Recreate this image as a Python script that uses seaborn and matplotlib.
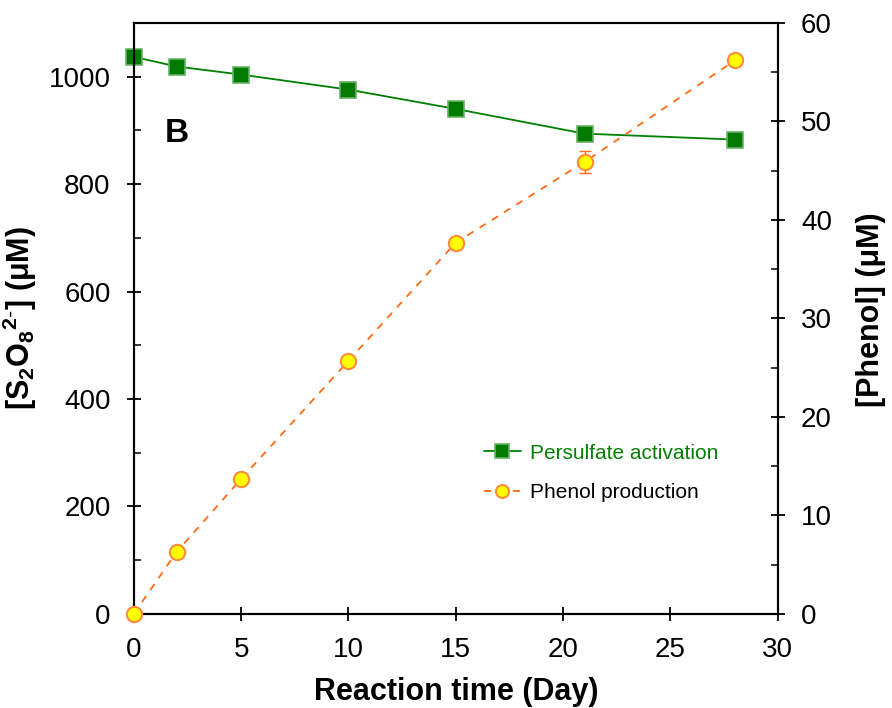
import matplotlib
matplotlib.use("Agg")
import matplotlib.pyplot as plt
from matplotlib.ticker import MultipleLocator
import seaborn as sns
import pandas as pd

# Persulfate concentration over time (left axis)
ps_days = [0, 2, 5, 10, 15, 21, 28]
ps_conc = [1037, 1019, 1004, 976, 940, 894, 883]

# Phenol production over time (right axis)
ph_days = [0, 2, 5, 10, 15, 21, 28]
ph_conc = [0.0, 6.3, 13.7, 25.7, 37.7, 45.9, 56.2]
ph_err = [0.0, 0.2, 0.3, 0.3, 0.4, 1.1, 0.4]

ps_label = "Persulfate activation"
ph_label = "Phenol production"

sns.set_style("ticks")
plt.rcParams["font.family"] = ["Liberation Sans", "DejaVu Sans"]
plt.rcParams["mathtext.fontset"] = "custom"
plt.rcParams["mathtext.rm"] = "Liberation Sans"
plt.rcParams["mathtext.bf"] = "Liberation Sans:bold"
plt.rcParams["text.color"] = "black"
plt.rcParams["axes.labelcolor"] = "black"

fig = plt.figure(figsize=(8.92, 7.08), dpi=100)
ax = fig.add_axes([0.150, 0.133, 0.722, 0.8345])
ax2 = ax.twinx()

ps_df = pd.DataFrame({"day": ps_days, "conc": ps_conc})
ph_df = pd.DataFrame({"day": ph_days, "conc": ph_conc, "err": ph_err})

sns.lineplot(data=ps_df, x="day", y="conc", ax=ax, color="#008000", lw=1.3,
             marker="s", markersize=11.5, markerfacecolor="#007a00",
             markeredgecolor="#66b266", markeredgewidth=1.2, label=ps_label,
             legend=False, zorder=3, clip_on=False)

ax2.errorbar(ph_df["day"], ph_df["conc"], yerr=ph_df["err"], fmt="none",
             ecolor="#ff6a13", elinewidth=1.0, capsize=4, zorder=2)
sns.lineplot(data=ph_df, x="day", y="conc", ax=ax2, color="#ff6a13", lw=1.3,
             linestyle=(0, (4, 4)), marker="o", markersize=11,
             markerfacecolor="#ffff00", markeredgecolor="#ff8c3a",
             markeredgewidth=1.5, label=ph_label, legend=False, zorder=3,
             clip_on=False)

ax.set_xlim(0, 30)
ax.set_ylim(0, 1100)
ax2.set_ylim(0, 60)

ax.xaxis.set_major_locator(MultipleLocator(5))
ax.yaxis.set_major_locator(MultipleLocator(200))
ax.yaxis.set_minor_locator(MultipleLocator(100))
ax2.yaxis.set_major_locator(MultipleLocator(10))
ax2.yaxis.set_minor_locator(MultipleLocator(5))

for a in (ax, ax2):
    for s in a.spines.values():
        s.set_linewidth(1.5)
        s.set_color("black")
    a.tick_params(which="major", direction="inout", length=9.5, width=1.3,
                  labelsize=20, colors="black", pad=12)
    a.tick_params(which="minor", direction="in", length=5, width=1.3)

ax.set_xlabel("Reaction time (Day)", fontsize=22, fontweight="bold", labelpad=10)
ax.set_ylabel(r"[S$_\mathbf{2}$O$_\mathbf{8}$$^\mathbf{2\text{-}}$] (μM)",
              fontsize=22, fontweight="bold", labelpad=7)
ax2.set_ylabel("[Phenol] (μM)", fontsize=22, fontweight="bold")
ax2.yaxis.set_label_coords(1.122, 0.515)

ax.text(1.45, 895, "B", fontsize=24, fontweight="bold", ha="left", va="center")

h1, l1 = ax.get_legend_handles_labels()
h2, l2 = ax2.get_legend_handles_labels()
leg = ax2.legend(h1 + h2, l1 + l2, loc="upper left",
                 bbox_to_anchor=(0.515, 0.32), frameon=False, fontsize=15,
                 labelspacing=1.0, handlelength=1.75, markerscale=0.85,
                 handletextpad=0.45)
leg.get_texts()[0].set_color("#008000")
leg.get_texts()[1].set_color("black")

fig.savefig("out.png", dpi=100)
